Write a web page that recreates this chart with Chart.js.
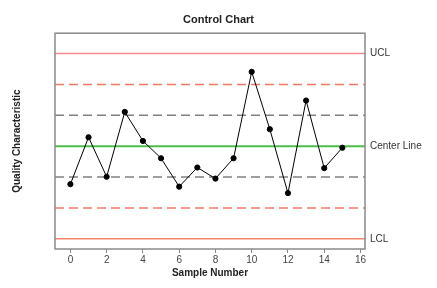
<!DOCTYPE html>
<html lang="en">
<head>
    <meta charset="UTF-8">
    <title>Control Chart</title>
    <script src="https://cdn.jsdelivr.net/npm/chart.js"></script>
    <style>
        * {
            margin: 0;
            padding: 0;
            box-sizing: border-box;
        }
        body {
            background-color: #fff;
            font-family: "Liberation Sans", Arial, sans-serif;
        }
        .chart-box {
            width: 437px;
            height: 288px;
            position: relative;
        }
    </style>
</head>
<body>

    <div class="chart-box">
        <canvas id="controlChart"></canvas>
    </div>

    <script>
        // data (values in sigma units, center = 0)
        const samples = [0, 1, 2, 3, 4, 5, 6, 7, 8, 9, 10, 11, 12, 13, 14, 15];
        const values = [-1.23, 0.29, -0.99, 1.11, 0.17, -0.39, -1.31, -0.69, -1.05, -0.39, 2.41, 0.55, -1.52, 1.48, -0.71, -0.05];
        const xTicks = [0, 2, 4, 6, 8, 10, 12, 14, 16];
        const xRange = [-0.85, 16.25];
        const yRange = [-3.33, 3.66];

        // control limits
        const limitNames = ['UCL', '', '', 'Center Line', '', '', 'LCL'];
        const limitValues = [3, 2, 1, 0, -1, -2, -3];
        const limitColors = ['#f28b8b', '#f07a66', '#808080', '#4cbf4c', '#808080', '#f07a66', '#f4866b'];
        const limitDash = [[], [9, 5], [9, 5], [], [9, 5], [9, 5], []];
        const limitWidth = [1.5, 1.5, 1.5, 2, 1.5, 1.5, 1.5];

        const limitSets = limitValues.map((v, i) => ({
            label: limitNames[i],
            data: [{x: xRange[0], y: v}, {x: xRange[1], y: v}],
            showLine: true,
            borderColor: limitColors[i],
            borderDash: limitDash[i],
            borderWidth: limitWidth[i],
            pointRadius: 0,
            order: 2
        }));

        // box around plot + labels on the right
        const boxPlugin = {
            id: 'boxPlugin',
            afterDraw(chart) {
                const c = chart.ctx;
                const a = chart.chartArea;
                const y = chart.scales.y;
                c.save();
                c.strokeStyle = '#8a8a8a';
                c.lineWidth = 1.5;
                c.strokeRect(a.left, a.top, a.right - a.left, a.bottom - a.top);
                c.fillStyle = '#333';
                c.font = '10px "Liberation Sans", Arial, sans-serif';
                c.textBaseline = 'middle';
                limitValues.forEach((v, i) => {
                    if (limitNames[i]) c.fillText(limitNames[i], a.right + 5, y.getPixelForValue(v));
                });
                c.restore();
            }
        };

        const ctx = document.getElementById('controlChart').getContext('2d');
        const chart = new Chart(ctx, {
            type: 'scatter',
            data: {
                datasets: [{
                    label: 'Samples',
                    data: samples.map((s, i) => ({x: s, y: values[i]})),
                    showLine: true,
                    borderColor: '#000',
                    borderWidth: 1,
                    backgroundColor: '#000',
                    pointRadius: 2.6,
                    order: 1
                }].concat(limitSets)
            },
            options: {
                responsive: true,
                maintainAspectRatio: false,
                animation: false,
                layout: {
                    padding: {top: 1, right: 0, bottom: 0, left: 0}
                },
                plugins: {
                    legend: {display: false},
                    tooltip: {enabled: false},
                    title: {
                        display: true,
                        text: 'Control Chart',
                        color: '#222',
                        font: {family: '"Liberation Sans", Arial, sans-serif', size: 11, weight: 'bold'},
                        padding: {top: 12, bottom: 7}
                    }
                },
                scales: {
                    x: {
                        type: 'linear',
                        min: xRange[0],
                        max: xRange[1],
                        afterBuildTicks: s => { s.ticks = xTicks.map(v => ({value: v})); },
                        afterFit: s => { s.height = 39; },
                        grid: {drawOnChartArea: false, drawTicks: true, tickLength: 4, color: '#8a8a8a'},
                        border: {display: false},
                        ticks: {
                            color: '#444',
                            padding: 1,
                            maxRotation: 0,
                            font: {family: '"Liberation Sans", Arial, sans-serif', size: 10}
                        },
                        title: {
                            display: true,
                            text: 'Sample Number',
                            color: '#222',
                            font: {family: '"Liberation Sans", Arial, sans-serif', size: 10, weight: 'bold'},
                            padding: {top: 0, bottom: 9}
                        }
                    },
                    y: {
                        min: yRange[0],
                        max: yRange[1],
                        afterFit: s => { s.width = 55; },
                        grid: {display: false},
                        border: {display: false},
                        ticks: {display: false},
                        title: {
                            display: true,
                            text: 'Quality Characteristic',
                            color: '#222',
                            font: {family: '"Liberation Sans", Arial, sans-serif', size: 10, weight: 'bold'},
                            padding: {top: 11, bottom: 0}
                        }
                    },
                    // empty right axis, only keeps room for the limit labels
                    yRight: {
                        position: 'right',
                        min: yRange[0],
                        max: yRange[1],
                        afterFit: s => { s.width = 72; },
                        grid: {display: false},
                        border: {display: false},
                        ticks: {display: false}
                    }
                }
            },
            plugins: [boxPlugin]
        });
    </script>
</body>
</html>
